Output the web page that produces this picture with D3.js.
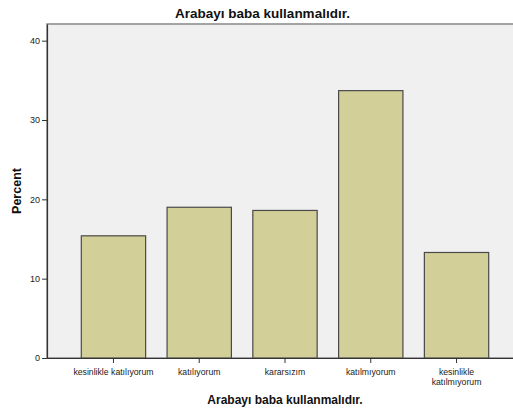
<!DOCTYPE html>
<html>
<head>
<meta charset="utf-8">
<script src="https://cdn.jsdelivr.net/npm/d3@7"></script>
<style>
  html, body { margin: 0; padding: 0; background: #ffffff; }
  svg { display: block; font-family: Arial, "Liberation Sans", sans-serif; }
</style>
</head>
<body>
<svg id="chart" width="513" height="410"></svg>
<script>
// Response categories (Likert scale) and percentage of respondents
const categories = [
  "kesinlikle katılıyorum",
  "katılıyorum",
  "kararsızım",
  "katılmıyorum",
  "kesinlikle katılmıyorum"
];
const categoryLabels = [
  ["kesinlikle katılıyorum"],
  ["katılıyorum"],
  ["kararsızım"],
  ["katılmıyorum"],
  ["kesinlikle", "katılmıyorum"]
];
const percents = [15.4, 19.0, 18.6, 33.7, 13.3];
const yTicks = [0, 10, 20, 30, 40];
const chartTitle = "Arabayı baba kullanmalıdır.";
const yTitle = "Percent";

const svg = d3.select("#chart");
const plot = { left: 47, top: 24, right: 523, bottom: 358 };

const x = d3.scaleBand()
  .domain(categories)
  .range([plot.left, plot.right])
  .paddingInner(0.25)
  .paddingOuter(0.4);

const y = d3.scaleLinear()
  .domain([0, 42.1])
  .range([plot.bottom, plot.top]);

// plot background
svg.append("rect")
  .attr("x", plot.left).attr("y", plot.top)
  .attr("width", plot.right - plot.left)
  .attr("height", plot.bottom - plot.top)
  .attr("fill", "#f0f0f0")
  .attr("stroke", "#888")
  .attr("stroke-width", 1.5);

// bars
svg.append("g").selectAll("rect")
  .data(percents)
  .join("rect")
  .attr("x", (d, i) => x(categories[i]))
  .attr("y", d => y(d))
  .attr("width", x.bandwidth())
  .attr("height", d => y(0) - y(d))
  .attr("fill", "#d3cf98")
  .attr("stroke", "#4a4a4a")
  .attr("stroke-width", 1.2);

// y axis
const yAxis = svg.append("g")
  .attr("transform", `translate(${plot.left},0)`)
  .call(d3.axisLeft(y).tickValues(yTicks).tickSize(5).tickSizeOuter(0).tickPadding(2));
yAxis.select(".domain").attr("stroke", "#333").attr("stroke-width", 1.2);
yAxis.selectAll(".tick line").attr("stroke", "#333");
yAxis.selectAll(".tick text")
  .attr("font-size", 9).attr("fill", "#222")
  .attr("font-family", "Arial, 'Liberation Sans', sans-serif");

// x axis
const xAxis = svg.append("g")
  .attr("transform", `translate(0,${plot.bottom})`)
  .call(d3.axisBottom(x).tickSize(5).tickSizeOuter(0).tickFormat(""));
xAxis.select(".domain").attr("stroke", "#333").attr("stroke-width", 1.2);
xAxis.selectAll(".tick line").attr("stroke", "#333");

const xl = svg.append("g");
categories.forEach((c, i) => {
  const t = xl.append("text")
    .attr("x", x(c) + x.bandwidth() / 2)
    .attr("y", plot.bottom + 17)
    .attr("text-anchor", "middle")
    .attr("font-size", 8.7)
    .attr("fill", "#222");
  categoryLabels[i].forEach((line, j) => {
    t.append("tspan")
      .attr("x", x(c) + x.bandwidth() / 2)
      .attr("dy", j === 0 ? 0 : 9.5)
      .text(line);
  });
});

// titles
svg.append("text")
  .attr("x", 262.5).attr("y", 18)
  .attr("text-anchor", "middle")
  .attr("font-size", 13.5).attr("font-weight", "bold")
  .attr("fill", "#111")
  .text(chartTitle);

svg.append("text")
  .attr("x", (plot.left + plot.right) / 2).attr("y", 404)
  .attr("text-anchor", "middle")
  .attr("font-size", 12).attr("font-weight", "bold")
  .attr("fill", "#111")
  .text(chartTitle);

svg.append("text")
  .attr("transform", `translate(21,${(plot.top + plot.bottom) / 2}) rotate(-90)`)
  .attr("text-anchor", "middle")
  .attr("font-size", 12.5).attr("font-weight", "bold")
  .attr("fill", "#111")
  .text(yTitle);
</script>
</body>
</html>
